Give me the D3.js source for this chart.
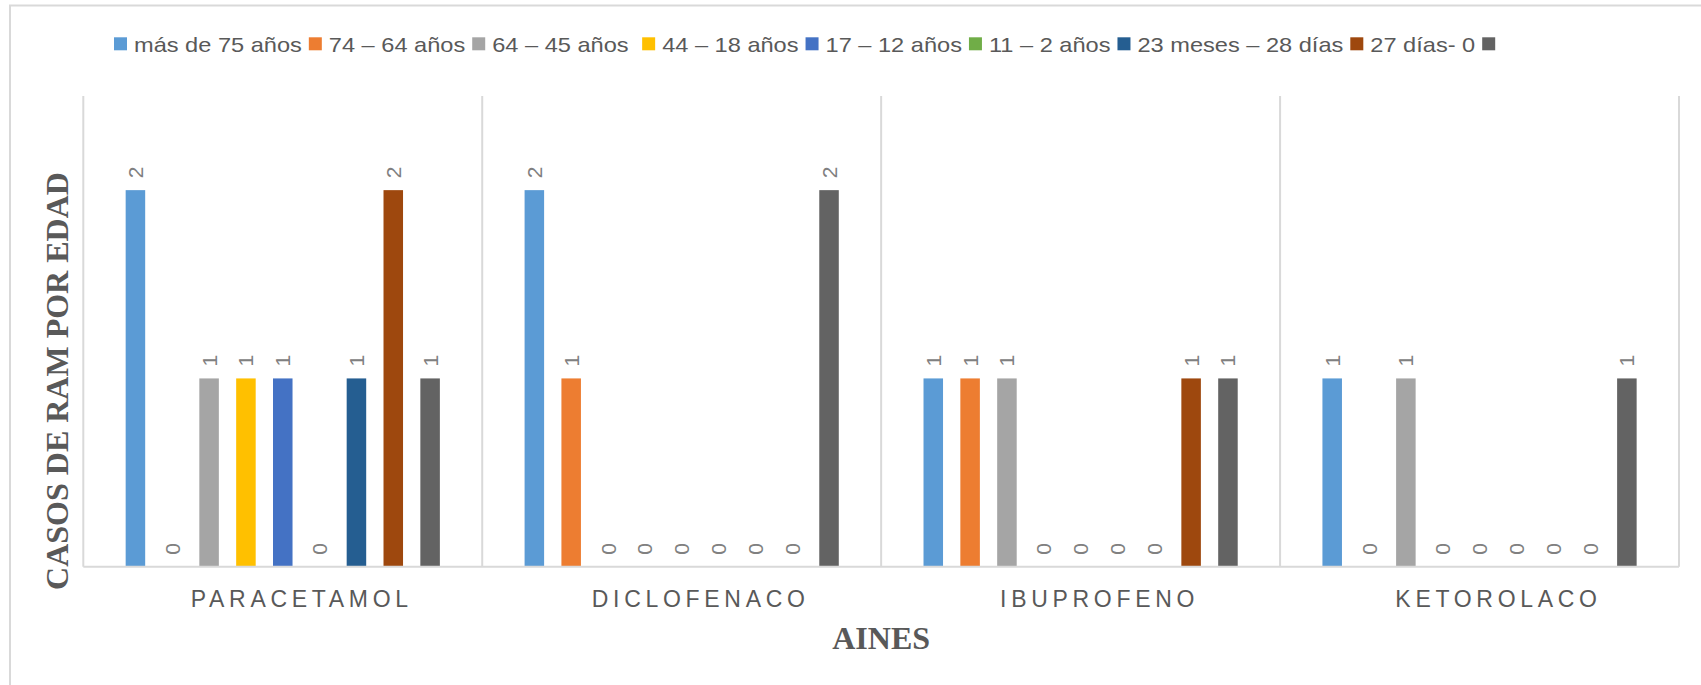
<!DOCTYPE html>
<html>
<head>
<meta charset="utf-8">
<script src="https://cdn.jsdelivr.net/npm/d3@7"></script>
<style>
  html, body { margin: 0; padding: 0; background: #ffffff; }
  svg { display: block; }
</style>
</head>
<body>
<svg id="chart" width="1701" height="685"></svg>
<script>
// ---- data ----
const categories = ["PARACETAMOL", "DICLOFENACO", "IBUPROFENO", "KETOROLACO"];
const seriesNames = ["más de 75 años", "74 – 64 años", "64 – 45 años ", "44 – 18 años", "17 – 12 años", "11 – 2 años", "23 meses – 28 días", "27 días- 0", ""];
const sMas75   = [2, 2, 1, 1];
const s74_64   = [0, 1, 1, 0];
const s64_45   = [1, 0, 1, 1];
const s44_18   = [1, 0, 0, 0];
const s17_12   = [1, 0, 0, 0];
const s11_2    = [0, 0, 0, 0];
const s23m_28d = [1, 0, 0, 0];
const s27d_0   = [2, 0, 1, 0];
const sOtro    = [1, 2, 1, 1];
const seriesValues = [sMas75, s74_64, s64_45, s44_18, s17_12, s11_2, s23m_28d, s27d_0, sOtro];
const colors = ["#5B9BD5", "#ED7D31", "#A5A5A5", "#FFC000", "#4472C4", "#70AD47", "#255E91", "#9E480E", "#636363"];
const yMax = 2.5;
const xTitle = "AINES";
const yTitle = "CASOS DE RAM POR EDAD";

// ---- layout ----
const svg = d3.select("#chart");
const plot = { left: 83.3, right: 1679, top: 96, bottom: 566.7 };
const gridColor = "#d9d9d9";
const textDark = "#595959";

// outer frame
svg.append("rect")
  .attr("x", 10).attr("y", 5.5)
  .attr("width", 1760).attr("height", 760)
  .attr("fill", "none").attr("stroke", gridColor).attr("stroke-width", 2);

const x0 = d3.scaleBand().domain(categories).range([plot.left, plot.right]).padding(0);
const x1 = d3.scaleBand().domain(d3.range(seriesNames.length))
  .range([0, x0.bandwidth()]).paddingInner(0.47).paddingOuter(1.15);
const y = d3.scaleLinear().domain([0, yMax]).range([plot.bottom, plot.top]);

// vertical separators between categories
const bounds = categories.map(c => x0(c)).concat([plot.right]);
svg.append("g").selectAll("line").data(bounds).join("line")
  .attr("x1", d => d).attr("x2", d => d)
  .attr("y1", plot.top).attr("y2", plot.bottom)
  .attr("stroke", gridColor).attr("stroke-width", 2);

// bars
const barData = [];
seriesValues.forEach((vals, si) => {
  vals.forEach((v, ci) => barData.push({ si, ci, v }));
});
const gBars = svg.append("g");
gBars.selectAll("rect").data(barData.filter(d => d.v > 0)).join("rect")
  .attr("x", d => x0(categories[d.ci]) + x1(d.si))
  .attr("y", d => y(d.v))
  .attr("width", x1.bandwidth())
  .attr("height", d => y(0) - y(d.v))
  .attr("fill", d => colors[d.si]);

// data labels (rotated)
svg.append("g").selectAll("text").data(barData).join("text")
  .attr("transform", d => {
    const cx = x0(categories[d.ci]) + x1(d.si) + x1.bandwidth() / 2 + 7.5;
    const cy = y(d.v) - 12;
    return `translate(${cx},${cy}) rotate(-90)`;
  })
  .attr("text-anchor", "start")
  .attr("font-family", "Liberation Sans, Arial, sans-serif")
  .attr("font-size", 21)
  .attr("fill", "#808080")
  .text(d => d.v);

// x axis
const xAxis = svg.append("g")
  .attr("transform", `translate(0,${plot.bottom})`)
  .call(d3.axisBottom(x0).tickSize(0).tickSizeOuter(0));
xAxis.select(".domain").attr("stroke", gridColor).attr("stroke-width", 2)
  .attr("d", `M${plot.left},0H${plot.right}`);
xAxis.selectAll(".tick text")
  .attr("y", 40).attr("dy", 0).attr("dx", 19)
  .attr("font-family", "Liberation Sans, Arial, sans-serif")
  .attr("font-size", 23)
  .attr("letter-spacing", 4.7)
  .attr("fill", textDark);

// axis titles
svg.append("text")
  .attr("x", (plot.left + plot.right) / 2).attr("y", 649)
  .attr("text-anchor", "middle")
  .attr("font-family", "Liberation Serif, 'Times New Roman', serif")
  .attr("font-weight", "bold").attr("font-size", 32)
  .attr("fill", textDark)
  .text(xTitle);

svg.append("text")
  .attr("transform", "translate(68,381) rotate(-90)")
  .attr("text-anchor", "middle")
  .attr("font-family", "Liberation Serif, 'Times New Roman', serif")
  .attr("font-weight", "bold").attr("font-size", 32)
  .attr("fill", textDark)
  .text(yTitle);

// legend
const legend = svg.append("g");
let lx = 114;
const sq = 13, sqTop = 37.3, baseline = 51.7, stretch = 1.18;
seriesNames.forEach((name, i) => {
  legend.append("rect")
    .attr("x", lx).attr("y", sqTop).attr("width", sq).attr("height", sq)
    .attr("fill", colors[i]);
  const tg = legend.append("g")
    .attr("transform", `translate(${lx + sq + 7},${baseline}) scale(${stretch},1)`);
  const t = tg.append("text")
    .attr("font-family", "Liberation Sans, Arial, sans-serif")
    .attr("font-size", 20)
    .attr("fill", textDark)
    .attr("xml:space", "preserve")
    .style("white-space", "pre")
    .text(name);
  const w = name ? t.node().getComputedTextLength() * stretch : 0;
  lx = lx + sq + 7 + w + 7;
});
</script>
</body>
</html>
